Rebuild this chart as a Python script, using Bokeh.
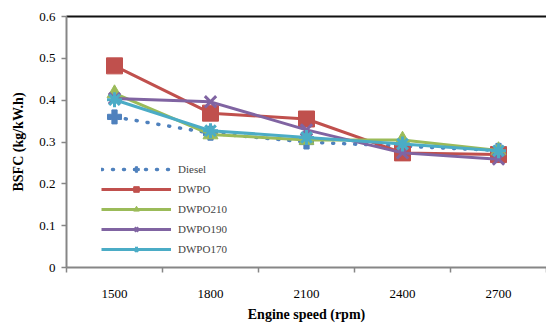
from bokeh.plotting import figure
from bokeh.models import FixedTicker, CustomJSTickFormatter, Legend, LegendItem, LinearAxis
from bokeh.embed import file_html
from bokeh.resources import INLINE

speeds = ["1500", "1800", "2100", "2400", "2700"]
diesel = [0.36, 0.321, 0.300, 0.290, 0.280]
dwpo = [0.482, 0.369, 0.355, 0.274, 0.270]
dwpo210 = [0.416, 0.318, 0.305, 0.305, 0.280]
dwpo190 = [0.404, 0.396, 0.329, 0.274, 0.259]
dwpo170 = [0.401, 0.327, 0.311, 0.295, 0.279]
y_ticks = [0, 0.1, 0.2, 0.3, 0.4, 0.5, 0.6]

xs = list(range(1, len(speeds) + 1))
FONT = "Liberation Serif"

p = figure(width=546, height=324, output_backend="svg", toolbar_location=None,
           x_range=(0.5, len(speeds) + 0.5), y_range=(0, 0.6),
           min_border_left=66, min_border_right=0, min_border_top=16, min_border_bottom=56)
p.outline_line_color = None
p.xgrid.visible = False
p.ygrid.visible = False
p.background_fill_color = "white"

# top border line of the plot area (an unlabeled axis)
top = LinearAxis(ticker=FixedTicker(ticks=xs), axis_line_color="#111111", axis_line_width=2,
                 major_tick_line_color=None, minor_tick_line_color=None,
                 major_label_text_color=None, major_label_text_font_size="1px",
                 major_label_standoff=0)
p.add_layout(top, "above")

# x axis
xa = p.below[0]
xa.ticker = FixedTicker(ticks=xs, minor_ticks=[0.5 + i for i in range(len(speeds) + 1)])
xa.major_label_overrides = {i: s for i, s in zip(xs, speeds)}
xa.major_tick_in = 0
xa.major_tick_out = 0
xa.minor_tick_in = 0
xa.minor_tick_out = 5
xa.minor_tick_line_color = "#868686"
xa.minor_tick_line_width = 1.5
xa.major_label_standoff = 17
xa.axis_label = "Engine speed (rpm)"
xa.axis_label_standoff = 6

# y axis
ya = p.left[0]
ya.ticker = FixedTicker(ticks=y_ticks)
ya.formatter = CustomJSTickFormatter(code='return tick == 0 ? "0" : tick.toFixed(1);')
ya.major_tick_in = 0
ya.major_tick_out = 5
ya.minor_tick_line_color = None
ya.major_tick_line_color = "#868686"
ya.major_tick_line_width = 1.5
ya.major_label_standoff = 6
ya.axis_label = "BSFC (kg/kW.h)"
ya.axis_label_standoff = 10

for ax in (xa, ya):
    ax.axis_line_color = "#868686"
    ax.axis_line_width = 2
    ax.major_label_text_font = FONT
    ax.major_label_text_font_size = "13px"
    ax.major_label_text_color = "black"
    ax.axis_label_text_font = FONT
    ax.axis_label_text_font_size = "14px"
    ax.axis_label_text_font_style = "bold"
    ax.axis_label_text_color = "black"

items = []
# Diesel
r1 = p.line(xs, diesel, line_color="#4F81BD", line_width=3.5, line_dash="1 10", line_cap="round")
m1 = p.scatter(xs, diesel, marker="plus", size=14, fill_color="#4F81BD", line_color="#4F81BD")
items.append(LegendItem(label="Diesel", renderers=[r1, m1]))

series = [
    ("DWPO", dwpo, "#C0504D", "square", 16),
    ("DWPO210", dwpo210, "#9BBB59", "triangle", 15),
    ("DWPO190", dwpo190, "#8064A2", "x", 16),
    ("DWPO170", dwpo170, "#4BACC6", "asterisk", 15),
]
for name, vals, col, mk, sz in series:
    r = p.line(xs, vals, line_color=col, line_width=3)
    m = p.scatter(xs, vals, marker=mk, size=sz, fill_color=col, line_color=col,
                  line_width=3 if mk in ("x", "asterisk") else 1)
    items.append(LegendItem(label=name, renderers=[r, m]))

legend = Legend(items=items, location=(35, 11), glyph_width=70, glyph_height=14,
                label_height=14, spacing=6, padding=0, margin=0,
                border_line_color=None, background_fill_alpha=0,
                label_text_font=FONT, label_text_font_size="11px", label_standoff=7)
p.add_layout(legend, "center")

open("out.html", "w").write(file_html(p, INLINE))
